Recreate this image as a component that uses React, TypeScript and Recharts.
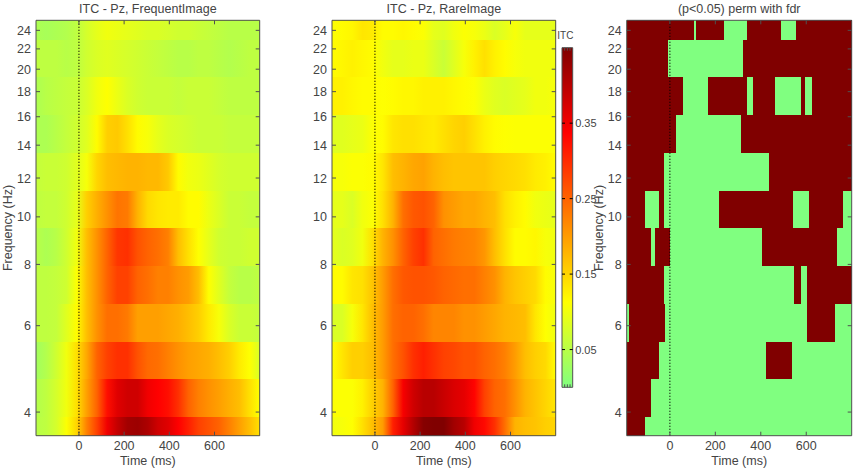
import { ComposedChart, ReferenceArea, ReferenceLine, XAxis, YAxis, Label } from 'recharts';

const TIMES = [-190, -145, -100, -55, -10, 35, 80, 125, 170, 215, 260, 305, 350, 395, 440, 485, 530, 575, 620, 665, 710, 755, 800];
const FREQ_EDGES = [3.58, 3.91, 4.67, 5.57, 6.65, 7.94, 9.48, 11.31, 13.5, 16.1, 19.26, 22.95, 25.16];
const TIME_TICKS = [0, 200, 400, 600];
const FREQ_TICKS = [4, 6, 8, 10, 12, 14, 16, 18, 20, 22, 24];
const ITC_TICKS = [0.05, 0.15, 0.25, 0.35];
const BAR_TICKS = [0.25, 0.5, 0.75];

// ITC rows, lowest frequency first
const FREQUENT_ITC = [
  [0.05, 0.056, 0.075, 0.11, 0.15, 0.225, 0.28, 0.35, 0.39, 0.42, 0.425, 0.41, 0.38, 0.365, 0.3375, 0.31, 0.28, 0.265, 0.25, 0.225, 0.197, 0.17, 0.14],
  [0.045, 0.056, 0.075, 0.1, 0.14, 0.197, 0.25, 0.325, 0.365, 0.38, 0.38, 0.35, 0.3375, 0.325, 0.295, 0.25, 0.225, 0.21, 0.197, 0.183, 0.17, 0.14, 0.112],
  [0.03, 0.045, 0.07, 0.1, 0.14, 0.19, 0.25, 0.28, 0.295, 0.295, 0.265, 0.245, 0.24, 0.225, 0.21, 0.197, 0.19, 0.183, 0.17, 0.155, 0.13, 0.112, 0.08],
  [0.056, 0.056, 0.06, 0.085, 0.115, 0.17, 0.21, 0.24, 0.24, 0.23, 0.197, 0.197, 0.197, 0.19, 0.183, 0.17, 0.155, 0.13, 0.105, 0.08, 0.065, 0.065, 0.06],
  [0.056, 0.056, 0.06, 0.07, 0.11, 0.17, 0.21, 0.25, 0.28, 0.28, 0.25, 0.24, 0.225, 0.225, 0.21, 0.2, 0.17, 0.112, 0.085, 0.06, 0.05, 0.05, 0.056],
  [0.05, 0.04, 0.05, 0.07, 0.1, 0.17, 0.21, 0.25, 0.29, 0.295, 0.265, 0.25, 0.24, 0.225, 0.17, 0.14, 0.112, 0.09, 0.07, 0.065, 0.065, 0.07, 0.07],
  [0.056, 0.06, 0.06, 0.07, 0.09, 0.155, 0.183, 0.21, 0.235, 0.23, 0.18, 0.145, 0.135, 0.13, 0.13, 0.115, 0.115, 0.095, 0.08, 0.065, 0.065, 0.06, 0.06],
  [0.06, 0.065, 0.065, 0.07, 0.085, 0.105, 0.15, 0.17, 0.175, 0.18, 0.18, 0.175, 0.175, 0.16, 0.115, 0.1, 0.095, 0.085, 0.075, 0.07, 0.07, 0.07, 0.07],
  [0.04, 0.04, 0.05, 0.06, 0.07, 0.085, 0.115, 0.155, 0.16, 0.14, 0.115, 0.105, 0.09, 0.08, 0.075, 0.07, 0.065, 0.065, 0.065, 0.06, 0.06, 0.06, 0.06],
  [0.04, 0.05, 0.055, 0.06, 0.065, 0.08, 0.1, 0.112, 0.095, 0.08, 0.07, 0.065, 0.065, 0.065, 0.06, 0.065, 0.065, 0.065, 0.06, 0.055, 0.055, 0.055, 0.055],
  [0.055, 0.055, 0.055, 0.05, 0.055, 0.07, 0.08, 0.085, 0.08, 0.075, 0.07, 0.065, 0.06, 0.055, 0.05, 0.05, 0.055, 0.055, 0.05, 0.045, 0.05, 0.055, 0.055],
  [0.04, 0.035, 0.04, 0.045, 0.055, 0.075, 0.09, 0.1, 0.095, 0.09, 0.085, 0.08, 0.08, 0.075, 0.07, 0.07, 0.065, 0.06, 0.055, 0.05, 0.05, 0.05, 0.05],
];

const RARE_ITC = [
  [0.1, 0.105, 0.112, 0.14, 0.17, 0.2, 0.31, 0.36, 0.405, 0.445, 0.45, 0.45, 0.42, 0.4, 0.35, 0.33, 0.295, 0.24, 0.18, 0.17, 0.165, 0.155, 0.15],
  [0.11, 0.11, 0.11, 0.125, 0.155, 0.18, 0.25, 0.345, 0.38, 0.4, 0.4, 0.385, 0.37, 0.36, 0.335, 0.28, 0.25, 0.24, 0.21, 0.18, 0.165, 0.15, 0.135],
  [0.112, 0.135, 0.155, 0.155, 0.17, 0.2, 0.24, 0.265, 0.295, 0.31, 0.295, 0.28, 0.275, 0.265, 0.265, 0.25, 0.24, 0.225, 0.2, 0.17, 0.155, 0.145, 0.115],
  [0.08, 0.08, 0.105, 0.135, 0.17, 0.2, 0.24, 0.25, 0.25, 0.24, 0.22, 0.22, 0.22, 0.21, 0.21, 0.2, 0.19, 0.18, 0.175, 0.17, 0.135, 0.112, 0.1],
  [0.115, 0.115, 0.135, 0.14, 0.165, 0.2, 0.24, 0.26, 0.265, 0.265, 0.26, 0.25, 0.245, 0.24, 0.24, 0.225, 0.21, 0.18, 0.165, 0.155, 0.145, 0.115, 0.105],
  [0.09, 0.08, 0.085, 0.1, 0.14, 0.18, 0.21, 0.25, 0.28, 0.295, 0.25, 0.24, 0.23, 0.225, 0.22, 0.205, 0.17, 0.14, 0.115, 0.115, 0.12, 0.105, 0.1],
  [0.09, 0.09, 0.08, 0.1, 0.11, 0.14, 0.18, 0.24, 0.26, 0.265, 0.25, 0.21, 0.2, 0.19, 0.19, 0.18, 0.17, 0.14, 0.125, 0.115, 0.1, 0.095, 0.09],
  [0.105, 0.105, 0.11, 0.11, 0.115, 0.135, 0.17, 0.18, 0.19, 0.195, 0.18, 0.17, 0.165, 0.165, 0.165, 0.165, 0.155, 0.15, 0.145, 0.14, 0.13, 0.125, 0.115],
  [0.085, 0.085, 0.09, 0.095, 0.11, 0.115, 0.135, 0.14, 0.14, 0.135, 0.13, 0.14, 0.15, 0.155, 0.14, 0.125, 0.115, 0.112, 0.11, 0.11, 0.11, 0.11, 0.11],
  [0.125, 0.125, 0.12, 0.115, 0.115, 0.112, 0.115, 0.12, 0.12, 0.125, 0.125, 0.125, 0.12, 0.115, 0.11, 0.095, 0.085, 0.08, 0.085, 0.09, 0.1, 0.1, 0.105],
  [0.115, 0.12, 0.125, 0.12, 0.115, 0.1, 0.09, 0.09, 0.095, 0.095, 0.08, 0.065, 0.085, 0.105, 0.125, 0.14, 0.125, 0.115, 0.105, 0.1, 0.1, 0.1, 0.1],
  [0.11, 0.115, 0.12, 0.135, 0.13, 0.115, 0.115, 0.12, 0.115, 0.11, 0.09, 0.085, 0.1, 0.11, 0.105, 0.095, 0.08, 0.09, 0.105, 0.09, 0.09, 0.09, 0.09],
];

// significant time spans per row, lowest frequency first
const SIGNIFICANT = [
  [[-190, -111]],
  [[-190, -84]],
  [[-190, -48], [424, 538]],
  [[-178, -22], [603, 726]],
  [[-190, -28], [544, 576], [603, 800]],
  [[-190, -84], [-65, 0], [406, 735]],
  [[-190, -111], [-48, -28], [217, 540], [614, 762]],
  [[-190, -28], [434, 800]],
  [[-190, 28], [314, 800]],
  [[-190, 57], [168, 339], [365, 462], [576, 594], [625, 800]],
  [[-190, -9], [323, 800]],
  [[-190, 105], [113, 236], [339, 491], [556, 800]],
];

const COLOR_KNOTS = [0, 0.1125, 0.3375, 0.45];
const COLOR_VALUES = [[128, 255, 128], [255, 255, 0], [255, 0, 0], [128, 0, 0]];

const TEXT = '#444444';
const AXIS = '#505050';
const FONT = '"Liberation Sans", Arial, sans-serif';
const FONT_SIZE = 12.5;
const tMin = TIMES[0];
const tMax = TIMES[TIMES.length - 1];

function itcColor(v: number) {
  let i = 0;
  while (i < COLOR_KNOTS.length - 2 && v > COLOR_KNOTS[i + 1]) i++;
  const f = Math.min(1, Math.max(0, (v - COLOR_KNOTS[i]) / (COLOR_KNOTS[i + 1] - COLOR_KNOTS[i])));
  const c = COLOR_VALUES[i].map((a, k) => Math.round(a + (COLOR_VALUES[i + 1][k] - a) * f));
  return `rgb(${c[0]},${c[1]},${c[2]})`;
}

// ticks point into the plot, as in the original figure
function inwardTick(side: 'left' | 'right' | 'top' | 'bottom', length: number, color: string, fontSize = 0) {
  return (props: any) => {
    const { x, y, payload } = props;
    const dx = side === 'left' ? length : side === 'right' ? -length : 0;
    const dy = side === 'top' ? length : side === 'bottom' ? -length : 0;
    return (
      <g>
        <line x1={x} y1={y} x2={x + dx} y2={y + dy} stroke={color} strokeWidth={1} />
        {fontSize > 0 && side === 'left' && (
          <text x={x - 5} y={y + 4.5} textAnchor="end" fill={TEXT} fontSize={fontSize} fontFamily={FONT}>
            {payload.value}
          </text>
        )}
        {fontSize > 0 && side === 'right' && (
          <text x={x + 2.5} y={y + 4} textAnchor="start" fill={TEXT} fontSize={fontSize} fontFamily={FONT}>
            {payload.value}
          </text>
        )}
        {fontSize > 0 && side === 'bottom' && (
          <text x={x} y={y + 14} textAnchor="middle" fill={TEXT} fontSize={fontSize} fontFamily={FONT}>
            {payload.value}
          </text>
        )}
      </g>
    );
  };
}

interface PanelProps {
  id: string;
  title: string;
  left: number;
  width: number;
  axisWidth: number;
  rightWidth: number;
  labelDx?: number;
  rows?: number[][];
  spans?: number[][][];
}

function Panel({ id, title, left, width, axisWidth, rightWidth, labelDx, rows, spans }: PanelProps) {
  const freqDomain = [FREQ_EDGES[0], FREQ_EDGES[FREQ_EDGES.length - 1]];
  return (
    <div style={{ position: 'absolute', left, top: 0 }}>
      <ComposedChart width={width} height={469} margin={{ top: 0, right: 0, bottom: 0, left: 0 }}>
        {rows && (
          <defs>
            {rows.map((row, r) => (
              <linearGradient key={r} id={`${id}-row-${r}`} x1="0" y1="0" x2="1" y2="0">
                {row.map((v, i) => (
                  <stop key={i} offset={(TIMES[i] - tMin) / (tMax - tMin)} stopColor={itcColor(v)} />
                ))}
              </linearGradient>
            ))}
          </defs>
        )}
        {rows &&
          rows.map((_, r) => (
            <ReferenceArea
              key={r}
              xAxisId="bottom"
              yAxisId="left"
              x1={tMin}
              x2={tMax}
              y1={FREQ_EDGES[r]}
              y2={FREQ_EDGES[r + 1]}
              fill={`url(#${id}-row-${r})`}
              fillOpacity={1}
              stroke="none"
              shapeRendering="crispEdges"
            />
          ))}
        {spans && (
          <ReferenceArea
            xAxisId="bottom"
            yAxisId="left"
            x1={tMin}
            x2={tMax}
            y1={freqDomain[0]}
            y2={freqDomain[1]}
            fill={itcColor(0)}
            fillOpacity={1}
            stroke="none"
          />
        )}
        {spans &&
          spans.flatMap((list, r) =>
            list.map((s, k) => (
              <ReferenceArea
                key={`${r}-${k}`}
                xAxisId="bottom"
                yAxisId="left"
                x1={s[0]}
                x2={s[1]}
                y1={FREQ_EDGES[r]}
                y2={FREQ_EDGES[r + 1]}
                fill={itcColor(0.45)}
                fillOpacity={1}
                stroke="none"
                shapeRendering="crispEdges"
              />
            )),
          )}
        <ReferenceLine xAxisId="bottom" yAxisId="left" x={0} stroke="#000000" strokeWidth={1.2} strokeDasharray="1 2" />
        <XAxis
          xAxisId="bottom"
          type="number"
          dataKey="t"
          domain={[tMin, tMax]}
          ticks={TIME_TICKS}
          height={33.3}
          allowDataOverflow
          stroke={AXIS}
          tickSize={0}
          tickMargin={0}
          tickLine={false}
          tick={inwardTick('bottom', 4, AXIS, FONT_SIZE)}
          interval={0}
        >
          <Label value="Time (ms)" position="insideBottom" offset={4} fill={TEXT} fontSize={FONT_SIZE} fontFamily={FONT} />
        </XAxis>
        <XAxis
          xAxisId="top"
          orientation="top"
          type="number"
          dataKey="t"
          domain={[tMin, tMax]}
          ticks={TIME_TICKS}
          height={20.3}
          allowDataOverflow
          stroke={AXIS}
          tickSize={0}
          tickMargin={0}
          tickLine={false}
          tick={inwardTick('top', 4, AXIS)}
          interval={0}
        >
          <Label value={title} position="center" dy={-2} fill={TEXT} fontSize={FONT_SIZE} fontFamily={FONT} />
        </XAxis>
        <YAxis
          yAxisId="left"
          type="number"
          dataKey="f"
          scale="log"
          domain={freqDomain}
          ticks={FREQ_TICKS}
          width={axisWidth}
          allowDataOverflow
          stroke={AXIS}
          tickSize={0}
          tickMargin={0}
          tickLine={false}
          tick={inwardTick('left', 4, AXIS, FONT_SIZE)}
          interval={0}
        >
          {labelDx !== undefined && (
            <Label
              value="Frequency (Hz)"
              angle={-90}
              position="center"
              dx={labelDx}
              fill={TEXT}
              fontSize={FONT_SIZE}
              fontFamily={FONT}
            />
          )}
        </YAxis>
        <YAxis
          yAxisId="right"
          orientation="right"
          type="number"
          dataKey="f"
          scale="log"
          domain={freqDomain}
          ticks={FREQ_TICKS}
          width={rightWidth}
          allowDataOverflow
          stroke={AXIS}
          tickSize={0}
          tickMargin={0}
          tickLine={false}
          tick={inwardTick('right', 4, AXIS)}
          interval={0}
        />
      </ComposedChart>
    </div>
  );
}

function ColorBar() {
  return (
    <div style={{ position: 'absolute', left: 552, top: 0 }}>
      <ComposedChart width={60} height={469} margin={{ top: 0, right: 0, bottom: 0, left: 0 }}>
        <defs>
          <linearGradient id="itc-scale" x1="0" y1="1" x2="0" y2="0">
            {COLOR_KNOTS.map((k) => (
              <stop key={k} offset={k / COLOR_KNOTS[COLOR_KNOTS.length - 1]} stopColor={itcColor(k)} />
            ))}
          </linearGradient>
        </defs>
        <ReferenceArea xAxisId="cb" yAxisId="cbLeft" x1={0} x2={1} y1={0} y2={0.45} fill="url(#itc-scale)" fillOpacity={1} stroke="none" />
        <XAxis xAxisId="cb" dataKey="u" type="number" domain={[0, 1]} ticks={BAR_TICKS} height={81.7} allowDataOverflow stroke={AXIS} tickSize={0} tickMargin={0} tickLine={false} tick={inwardTick('bottom', 3, AXIS)} interval={0} />
        <XAxis xAxisId="cbTop" dataKey="u" orientation="top" type="number" domain={[0, 1]} ticks={BAR_TICKS} height={47.7} allowDataOverflow stroke={AXIS} tickSize={0} tickMargin={0} tickLine={false} tick={inwardTick('top', 3, AXIS)} interval={0}>
          <Label value="ITC" position="center" dx={-2} dy={11.7} fill={TEXT} fontSize={10} fontFamily={FONT} />
        </XAxis>
        <YAxis yAxisId="cbLeft" dataKey="v" type="number" domain={[0, 0.45]} ticks={ITC_TICKS} width={10} allowDataOverflow stroke={AXIS} tickSize={0} tickMargin={0} tickLine={false} tick={inwardTick('left', 3, '#000000')} interval={0} />
        <YAxis
          yAxisId="cbRight"
          dataKey="v"
          orientation="right"
          type="number"
          domain={[0, 0.45]}
          ticks={ITC_TICKS}
          width={39.3}
          allowDataOverflow
          stroke={AXIS}
          tickSize={0}
          tickMargin={0}
          tickLine={false}
          tick={inwardTick('right', 3, '#000000', 11)}
          interval={0}
        />
      </ComposedChart>
    </div>
  );
}

export default function App() {
  return (
    <div style={{ position: 'absolute', left: 0, top: 0, width: 854, height: 469, background: '#ffffff', fontFamily: FONT }}>
      <Panel id="frequent" title="ITC - Pz, FrequentImage" left={0} width={270} axisWidth={36} rightWidth={10.3} labelDx={-10.5} rows={FREQUENT_ITC} />
      <Panel id="rare" title="ITC - Pz, RareImage" left={296} width={270} axisWidth={36} rightWidth={10.3} rows={RARE_ITC} />
      <ColorBar />
      <Panel id="mask" title="(p<0.05) perm with fdr" left={590} width={264} axisWidth={36.7} rightWidth={2.3} labelDx={-10} spans={SIGNIFICANT} />
    </div>
  );
}
